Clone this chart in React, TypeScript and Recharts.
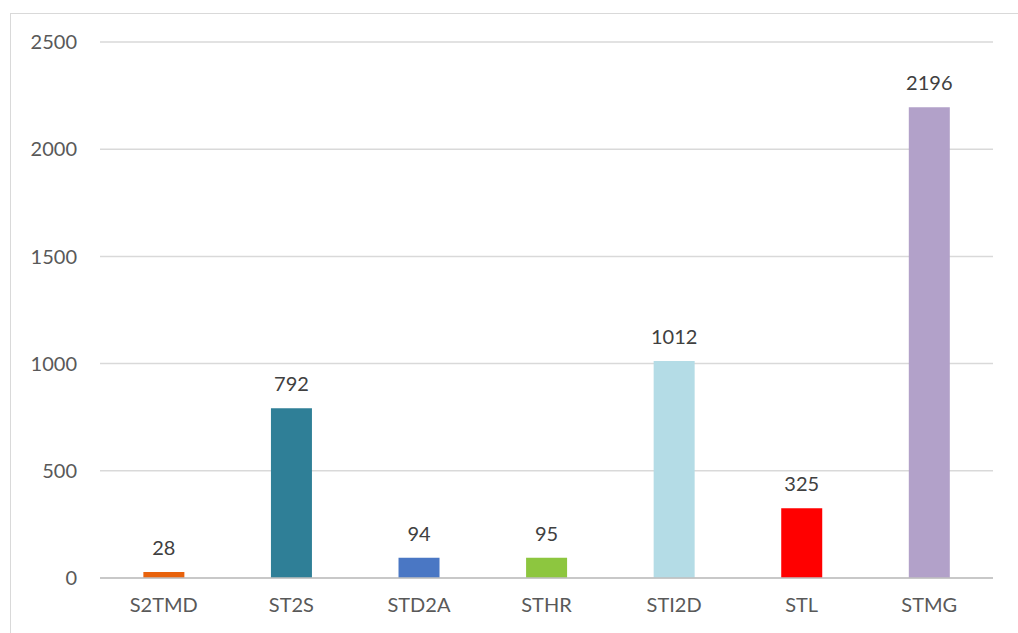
import React from "react";
import { BarChart, Bar, XAxis, YAxis, CartesianGrid, Cell, LabelList } from "recharts";

const categories = ["S2TMD", "ST2S", "STD2A", "STHR", "STI2D", "STL", "STMG"];
const values = [28, 792, 94, 95, 1012, 325, 2196];
const colors = ["#E8620C", "#2F7F97", "#4A77C4", "#8DC63F", "#B4DCE6", "#FF0000", "#B2A1C9"];
const yTicks = [0, 500, 1000, 1500, 2000, 2500];

const data = categories.map((c, i) => ({ name: c, value: values[i] }));

const font = "Lato, 'Open Sans', sans-serif";

export default function App() {
  return (
    <div style={{ position: "absolute", left: 0, top: 0, width: 1018, height: 633, background: "#fff", overflow: "hidden" }}>
      <div style={{ position: "absolute", left: 10, top: 13, width: 1020, height: 640, border: "1px solid #d9d9d9", boxSizing: "border-box" }} />
      <div style={{ position: "absolute", left: 0, top: 0 }}>
        <BarChart width={1018} height={633} data={data} margin={{ top: 42, right: 25, bottom: 25, left: 0 }} barCategoryGap="34%">
          <CartesianGrid vertical={false} stroke="#d9d9d9" strokeWidth={1.5} />
          <XAxis
            dataKey="name"
            height={30}
            tickLine={false}
            tickSize={0}
            tickMargin={20}
            axisLine={{ stroke: "#bfbfbf", strokeWidth: 1.5 }}
            tick={{ fill: "#595959", fontSize: 20, fontFamily: font }}
            interval={0}
          />
          <YAxis
            width={100}
            domain={[0, 2500]}
            ticks={yTicks}
            axisLine={false}
            tickLine={false}
            tickSize={0}
            tickMargin={23}
            tick={{ fill: "#595959", fontSize: 20, fontFamily: font }}
          />
          <Bar dataKey="value" isAnimationActive={false}>
            {data.map((d, i) => (
              <Cell key={d.name} fill={colors[i]} />
            ))}
            <LabelList dataKey="value" position="top" offset={17} fill="#404040" fontSize={20} fontFamily={font} />
          </Bar>
        </BarChart>
      </div>
    </div>
  );
}
